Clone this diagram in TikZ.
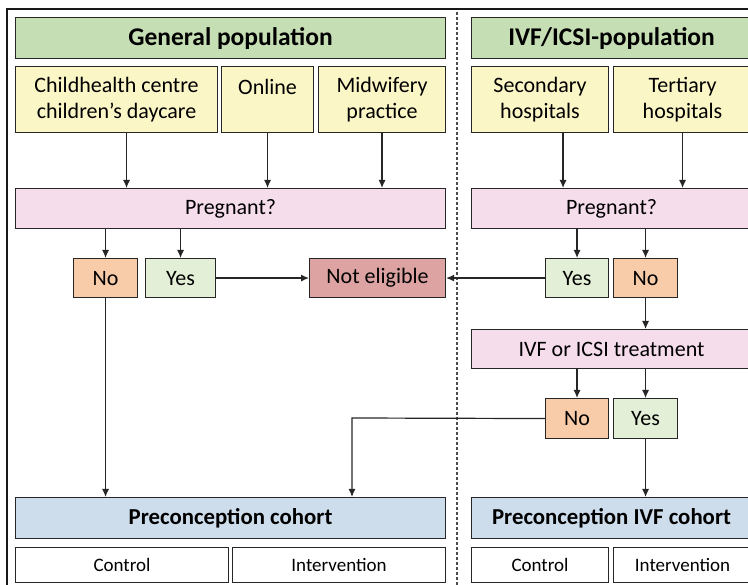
\documentclass[tikz,border=0pt]{standalone}
\usepackage{fontspec}
\setmainfont{Carlito}
\usetikzlibrary{arrows.meta}

\definecolor{headgreen}{HTML}{C6DEB4}
\definecolor{srcyellow}{HTML}{FBF6C6}
\definecolor{askpink}{HTML}{F6DDEC}
\definecolor{nopeach}{HTML}{F8CBA9}
\definecolor{yesgreen}{HTML}{E3EFD7}
\definecolor{notred}{HTML}{DDA3A3}
\definecolor{cohblue}{HTML}{CDDDEC}

\tikzset{
  box/.style={draw=black!85, line width=1.1pt, anchor=north west, inner sep=0pt,
    align=center, font=\fontsize{22}{26}\selectfont},
  boxsize/.style 2 args={minimum width=#1pt, minimum height=#2pt},
  head/.style={box, fill=headgreen, font=\fontsize{25.5}{28}\selectfont\bfseries},
  source/.style={box, fill=srcyellow},
  ask/.style={box, fill=askpink},
  answerno/.style={box, fill=nopeach},
  answeryes/.style={box, fill=yesgreen},
  cohort/.style={box, fill=cohblue, font=\fontsize{22.8}{26}\selectfont\bfseries},
  arm/.style={box, fill=white, font=\fontsize{19}{22}\selectfont},
  link/.style={draw=black!85, line width=1.2pt, -{Latex[length=8pt,width=7pt]}}
}

\begin{document}
\begin{tikzpicture}[x=1pt, y=-1pt]
\useasboundingbox (0,0) rectangle (748,585);
\clip (0,0) rectangle (748,585);

% frame and divider
\draw[line width=2pt, black!90] (7,600) -- (7,9) -- (770,9);
\draw[line width=1.2pt, black!70, dash pattern=on 3pt off 2pt] (457,12) -- (457,600);

% general population
\node[head, boxsize={430}{41}] (genpop) at (15,17) {General population};
\node[source, boxsize={202}{66}] (child) at (15,66) {Childhealth centre\\children’s daycare};
\node[source, boxsize={92}{66}] (online) at (221,66) {Online\\\mbox{}};
\node[source, boxsize={127}{66}] (midwife) at (318,66) {Midwifery\\practice};
\node[ask, boxsize={430}{40}] (pregL) at (15,188) {Pregnant?};
\node[answerno, boxsize={64}{39}] (noL) at (73,258) {No};
\node[answeryes, boxsize={70}{39}] (yesL) at (145,258) {Yes};
\node[box, fill=notred, boxsize={136}{39}] (notel) at (309,258) {Not eligible};
\node[cohort, boxsize={430}{41}] (cohortL) at (15,497) {Preconception cohort};
\node[arm, boxsize={213}{35}] (ctrlL) at (15,547) {Control};
\node[arm, boxsize={213}{35}] (intL) at (232,547) {Intervention};

% IVF/ICSI population
\node[head, boxsize={280}{41}] (ivfpop) at (471,17) {IVF/ICSI-population};
\node[source, boxsize={137}{66}] (second) at (471,66) {Secondary\\hospitals};
\node[source, boxsize={138}{66}] (tert) at (613,66) {Tertiary\\hospitals};
\node[ask, boxsize={280}{40}] (pregR) at (471,188) {Pregnant?};
\node[answeryes, boxsize={63}{39}] (yesR) at (545,258) {Yes};
\node[answerno, boxsize={64}{39}] (noR) at (613,258) {No};
\node[ask, boxsize={280}{39}] (treat) at (471,329) {IVF or ICSI treatment};
\node[answerno, boxsize={63}{40}] (no2) at (545,398) {No};
\node[answeryes, boxsize={64}{40}] (yes2) at (613,398) {Yes};
\node[cohort, boxsize={280}{41}] (cohortR) at (471,497) {Preconception IVF cohort};
\node[arm, boxsize={137}{35}] (ctrlR) at (471,547) {Control};
\node[arm, boxsize={138}{35}] (intR) at (613,547) {Intervention};

% connectors
\coordinate (bend) at (352,418);
\draw[link] ([xshift=10pt]child.south) -- ([xshift=10pt]child.south |- pregL.north);
\draw[link] (online.south) -- (online.south |- pregL.north);
\draw[link] (midwife.south) -- (midwife.south |- pregL.north);
\draw[link] ([xshift=23pt]second.south) -- ([xshift=23pt]second.south |- pregR.north);
\draw[link] (tert.south) -- (tert.south |- pregR.north);
\draw[link] (noL.north |- pregL.south) -- (noL.north);
\draw[link] (yesL.north |- pregL.south) -- (yesL.north);
\draw[link] (yesL.east) -- (notel.west);
\draw[link] (yesR.north |- pregR.south) -- (yesR.north);
\draw[link] (noR.north |- pregR.south) -- (noR.north);
\draw[link] (yesR.west) -- (notel.east);
\draw[link] (noR.south) -- (noR.south |- treat.north);
\draw[link] (no2.north |- treat.south) -- (no2.north);
\draw[link] (yes2.north |- treat.south) -- (yes2.north);
\draw[link] (noL.south) -- (noL.south |- cohortL.north);
\draw[link] (no2.west) -- (bend) -- (bend |- cohortL.north);
\draw[link] (yes2.south) -- (yes2.south |- cohortR.north);
\end{tikzpicture}
\end{document}
